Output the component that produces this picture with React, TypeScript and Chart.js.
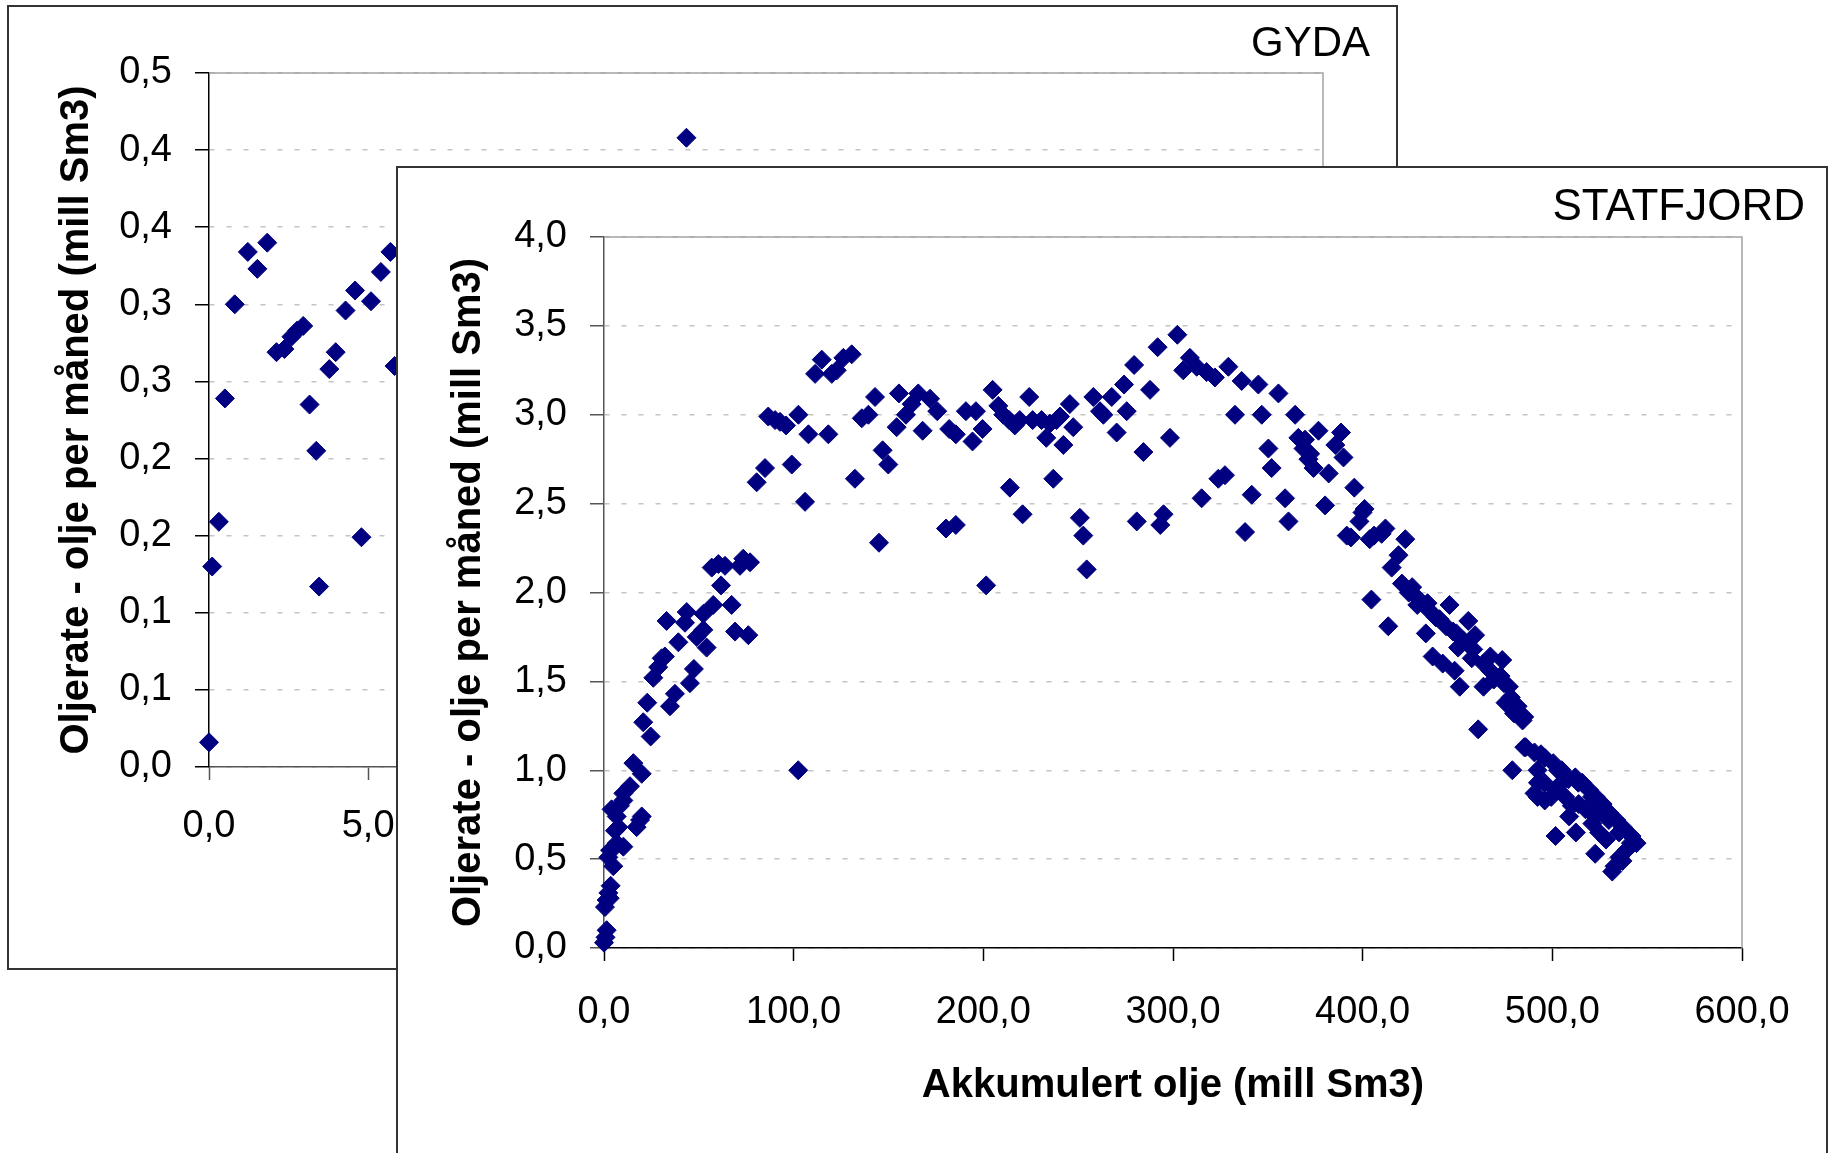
import React, { useEffect, useRef } from 'react';
import { Chart, registerables } from 'chart.js';

Chart.register(...registerables);

type Pt = [number, number];

// ---- GYDA: [akkumulert olje (mill Sm3), oljerate (mill Sm3 per måned)] ----
const gydaPoints: Pt[] = [
  [0.0, 0.016], [0.10, 0.130], [0.31, 0.159], [0.50, 0.239], [0.81, 0.300],
  [1.22, 0.334], [1.52, 0.323], [1.83, 0.340], [2.12, 0.269], [2.37, 0.271],
  [2.59, 0.279], [2.77, 0.283], [2.96, 0.286], [3.16, 0.235], [3.37, 0.205],
  [3.46, 0.117], [3.78, 0.258], [3.98, 0.269], [4.29, 0.296], [4.59, 0.309],
  [4.79, 0.149], [5.09, 0.302], [5.40, 0.321], [5.70, 0.334], [5.83, 0.260],
  [15.0, 0.408],
];

// ---- STATFJORD: oppbygging ----
const statfjordBuildup: Pt[] = [
  [0.0, 0.03], [0.8, 0.06], [1.4, 0.10], [0.5, 0.23], [1.4, 0.27], [2.3, 0.31],
  [3.5, 0.35], [3.0, 0.28], [4.9, 0.46], [2.3, 0.51], [3.2, 0.55], [4.0, 0.55],
  [6.7, 0.59], [10.2, 0.57], [5.8, 0.66], [7.6, 0.68], [4.0, 0.78], [6.7, 0.74],
  [8.4, 0.80], [10.2, 0.83], [10.2, 0.87], [13.7, 0.91], [17.2, 0.68], [19.0, 0.72],
  [19.9, 0.74], [15.5, 1.04], [19.9, 0.98], [24.6, 1.19], [20.7, 1.27], [22.8, 1.38],
  [26.0, 1.52], [28.6, 1.58], [30.4, 1.63], [32.1, 1.64], [34.8, 1.36], [37.4, 1.43],
  [33.0, 1.84], [39.2, 1.72], [42.7, 1.83], [43.6, 1.89], [45.3, 1.49], [47.4, 1.57],
  [48.9, 1.75], [52.4, 1.88], [52.4, 1.79], [54.1, 1.69], [56.8, 2.14], [57.6, 1.93],
  [60.3, 2.16], [61.7, 2.04], [63.8, 2.15], [67.3, 1.93], [69.1, 1.78], [71.7, 2.15],
  [73.4, 2.19], [76.1, 1.76], [77.0, 2.17],
];

// ---- STATFJORD: platå ----
const statfjordPlateau: Pt[] = [
  [80.5, 2.62], [84.9, 2.70], [86.6, 2.99], [90.2, 2.97], [92.8, 2.96], [96.0, 2.94],
  [99.0, 2.72], [102.5, 3.00], [102.4, 1.00], [106.0, 2.51], [107.8, 2.89], [111.3, 3.23],
  [114.8, 3.31], [118.3, 2.89], [120.1, 3.23], [122.7, 3.25], [126.2, 3.32], [130.6, 3.34],
  [132.3, 2.64], [135.9, 2.98], [139.4, 3.00], [142.9, 3.10], [145.0, 2.28], [146.9, 2.80],
  [149.9, 2.72], [154.3, 2.93], [155.5, 3.12], [159.2, 3.00], [162.2, 3.06], [165.7, 3.12],
  [168.0, 2.91], [171.9, 3.09], [175.7, 3.02], [182.0, 2.92], [185.5, 2.89], [180.3, 2.36],
  [185.5, 2.38], [190.8, 3.02], [194.3, 2.85], [196.1, 3.02], [199.6, 2.92], [201.5, 2.04],
  [204.9, 3.14], [207.9, 3.05], [210.5, 3.00], [213.6, 2.97], [216.6, 2.94], [219.2, 2.97],
  [214.0, 2.59], [220.7, 2.44], [224.2, 3.10], [226.0, 2.97], [230.7, 2.97], [233.2, 2.87],
  [235.1, 2.95], [236.9, 2.64], [238.6, 2.97], [240.4, 2.99], [242.2, 2.83], [245.6, 3.06],
  [247.4, 2.93], [250.9, 2.42], [252.7, 2.32], [254.5, 2.13], [258.0, 3.10], [261.5, 3.02],
  [263.3, 3.00], [267.7, 3.10], [270.3, 2.90], [274.2, 3.17], [275.6, 3.02], [279.5, 3.28],
  [280.9, 2.40], [284.4, 2.79], [287.9, 3.14], [291.9, 3.38], [293.3, 2.38], [295.0, 2.44],
  [298.4, 2.87], [302.3, 3.45], [305.4, 3.25], [308.9, 3.32], [312.5, 3.27], [315.1, 2.53],
  [317.7, 3.24], [322.1, 3.21], [323.9, 2.64], [327.4, 2.66], [329.2, 3.27], [332.7, 3.00],
  [336.2, 3.19], [338.0, 2.34], [341.5, 2.55], [345.0, 3.17], [346.8, 3.00], [350.3, 2.81],
  [352.0, 2.70], [355.6, 3.12], [359.1, 2.53], [360.9, 2.40], [364.4, 3.00], [366.1, 2.87],
  [368.8, 2.81], [369.6, 2.86], [371.4, 2.75], [372.3, 2.78], [374.1, 2.70], [376.7, 2.91],
  [380.2, 2.49], [382.1, 2.67], [385.6, 2.83], [388.6, 2.90], [389.9, 2.76], [391.6, 2.32],
  [393.8, 2.31], [395.6, 2.59], [398.3, 2.40], [399.9, 2.45], [401.0, 2.47], [403.7, 2.30],
  [406.0, 2.32], [410.0, 2.33], [412.0, 2.36], [415.3, 2.14], [418.9, 2.21], [422.5, 2.30],
];

// ---- STATFJORD: nedtrapping ----
const statfjordDecline: Pt[] = [
  [404.6, 1.96], [413.5, 1.81], [420.7, 2.05], [424.3, 2.00], [426.1, 2.03], [428.8, 1.93],
  [429.7, 1.96], [434.2, 1.94], [435.0, 1.90], [438.6, 1.86], [433.3, 1.77], [440.5, 1.85],
  [444.0, 1.81], [445.8, 1.93], [447.7, 1.78], [449.4, 1.77], [453.0, 1.73], [455.7, 1.84],
  [459.3, 1.76], [458.3, 1.68], [450.3, 1.69], [436.9, 1.64], [442.2, 1.60], [448.5, 1.56],
  [451.2, 1.47], [457.5, 1.63], [463.7, 1.60], [467.3, 1.56], [467.3, 1.64], [473.6, 1.62],
  [472.7, 1.53], [474.5, 1.49], [463.7, 1.47], [469.1, 1.51], [477.1, 1.47], [475.3, 1.38],
  [478.1, 1.41], [479.8, 1.32], [481.7, 1.36], [484.3, 1.28], [485.2, 1.30], [460.9, 1.23],
  [478.9, 1.00], [486.0, 1.13], [485.2, 1.13], [490.6, 1.10], [494.0, 1.09], [496.0, 1.07],
  [500.5, 1.04], [492.2, 1.00], [503.0, 1.00], [505.0, 1.00], [495.8, 0.93], [492.4, 0.93],
  [503.0, 0.91], [508.5, 0.95], [512.1, 0.96], [513.7, 0.93], [515.7, 0.93], [519.3, 0.89],
  [520.9, 0.85], [522.9, 0.85], [492.2, 0.85], [490.6, 0.87], [496.0, 0.83], [499.4, 0.85],
  [501.4, 0.89], [506.8, 0.85], [510.3, 0.80], [513.9, 0.81], [517.5, 0.78], [524.4, 0.78],
  [526.5, 0.81], [508.9, 0.74], [522.6, 0.74], [521.1, 0.70], [530.1, 0.76], [529.8, 0.72],
  [533.7, 0.72], [537.2, 0.68], [535.2, 0.65], [524.7, 0.65], [501.7, 0.63], [512.4, 0.65],
  [528.3, 0.61], [541.7, 0.63], [541.4, 0.59], [544.4, 0.59], [539.0, 0.55], [522.6, 0.53],
  [535.4, 0.51], [537.0, 0.49], [532.8, 0.46], [531.6, 0.43],
];

const statfjordPoints: Pt[] = [...statfjordBuildup, ...statfjordPlateau, ...statfjordDecline];

// ---- Akser ----
const gydaAkkTicks = [0, 5, 10, 15, 20, 25, 30, 35];
const gydaRateTicks = [0, 0.05, 0.1, 0.15, 0.2, 0.25, 0.3, 0.35, 0.4, 0.45];
const statfjordAkkTicks = [0, 100, 200, 300, 400, 500, 600];
const statfjordRateTicks = [0, 0.5, 1, 1.5, 2, 2.5, 3, 3.5, 4];

const X_TITLE = 'Akkumulert olje (mill Sm3)';
const Y_TITLE = 'Oljerate - olje per måned (mill Sm3)';

const FONT = '"Liberation Sans", Arial, Helvetica, sans-serif';
const NAVY = '#000080';
const GRID = '#c4c4c4';
const FRAME = '#a3a3a3';
const TICK_SIZE = 38;

// Excel-style one-decimal label with comma separator
const fmt1 = (v: number) => (Math.round(v * 10 + 1e-9) / 10).toFixed(1).replace('.', ',');

// Grey frame on the top and right edges of the plot area
const plotFrame = {
  id: 'plotFrame',
  beforeDatasetsDraw(chart: any) {
    const { ctx, chartArea } = chart;
    const { left, top, right, bottom } = chartArea;
    ctx.save();
    ctx.strokeStyle = FRAME;
    ctx.lineWidth = 1.5;
    ctx.setLineDash([]);
    ctx.beginPath();
    ctx.moveTo(left, top);
    ctx.lineTo(right, top);
    ctx.lineTo(right, bottom);
    ctx.stroke();
    ctx.restore();
  },
};

interface Frame {
  pad: { left: number; top: number; right: number; bottom: number };
  yWidth: number;
  xHeight: number;
  yTitlePad: number;
  yTickPad: number;
  xTickPad: number;
  yAxisColor: string;
  xAxisColor: string;
}

function scatterConfig(points: Pt[], xTicks: number[], yTicks: number[], f: Frame): any {
  const ticksFrom = (vals: number[]) => (scale: any) => {
    scale.ticks = vals.map((value) => ({ value }));
  };
  return {
    type: 'scatter',
    data: {
      datasets: [
        {
          data: points.map(([x, y]) => ({ x, y })),
          pointStyle: 'rectRot',
          pointRadius: 9.5,
          borderWidth: 1,
          backgroundColor: NAVY,
          borderColor: NAVY,
          clip: false,
        },
      ],
    },
    options: {
      responsive: false,
      animation: false,
      events: [],
      layout: { padding: f.pad },
      plugins: {
        legend: { display: false },
        tooltip: { enabled: false },
        title: { display: false },
      },
      scales: {
        x: {
          type: 'linear',
          position: 'bottom',
          min: xTicks[0],
          max: xTicks[xTicks.length - 1],
          afterBuildTicks: ticksFrom(xTicks),
          afterFit: (s: any) => {
            s.height = f.xHeight;
          },
          ticks: {
            callback: (v: any) => fmt1(Number(v)),
            font: { family: FONT, size: TICK_SIZE },
            color: '#000',
            padding: f.xTickPad,
            maxRotation: 0,
            autoSkip: false,
          },
          grid: {
            drawOnChartArea: false,
            drawTicks: true,
            tickLength: 13,
            tickColor: f.xAxisColor,
            tickWidth: 1.5,
          },
          border: { display: true, color: f.xAxisColor, width: 1.5 },
          title: {
            display: true,
            text: X_TITLE,
            font: { family: FONT, size: 40, weight: 'bold' },
            color: '#000',
            padding: { top: 0, bottom: 0 },
          },
        },
        y: {
          type: 'linear',
          position: 'left',
          min: yTicks[0],
          max: yTicks[yTicks.length - 1],
          afterBuildTicks: ticksFrom(yTicks),
          afterFit: (s: any) => {
            s.width = f.yWidth;
          },
          ticks: {
            callback: (v: any) => fmt1(Number(v)),
            font: { family: FONT, size: TICK_SIZE },
            color: '#000',
            padding: f.yTickPad,
            autoSkip: false,
          },
          grid: {
            color: GRID,
            lineWidth: 1.5,
            drawTicks: true,
            tickLength: 14,
            tickColor: f.yAxisColor,
            tickWidth: 1.5,
            tickBorderDash: [],
          },
          border: { display: true, color: f.yAxisColor, width: 1.5, dash: [5, 12] },
          title: {
            display: true,
            text: Y_TITLE,
            font: { family: FONT, size: 40, weight: 'bold' },
            color: '#000',
            padding: { top: f.yTitlePad, bottom: 0 },
          },
        },
      },
    },
    plugins: [plotFrame],
  };
}

const panelStyle = (left: number, top: number, width: number, height: number): React.CSSProperties => ({
  position: 'absolute',
  left,
  top,
  width,
  height,
  boxSizing: 'border-box',
  border: '2px solid #333',
  background: '#fff',
  overflow: 'hidden',
});

export default function App() {
  const gydaRef = useRef<HTMLCanvasElement>(null);
  const statRef = useRef<HTMLCanvasElement>(null);

  useEffect(() => {
    const charts: Chart[] = [];
    if (gydaRef.current) {
      charts.push(
        new Chart(
          gydaRef.current,
          scatterConfig(gydaPoints, gydaAkkTicks, gydaRateTicks, {
            pad: { left: 0, top: 66, right: 73, bottom: 51 },
            yWidth: 200,
            xHeight: 150,
            yTitlePad: 43.5,
            yTickPad: 23,
            xTickPad: 24,
            yAxisColor: '#000',
            xAxisColor: '#555',
          })
        )
      );
    }
    if (statRef.current) {
      charts.push(
        new Chart(
          statRef.current,
          scatterConfig(statfjordPoints, statfjordAkkTicks, statfjordRateTicks, {
            pad: { left: 0, top: 69, right: 84, bottom: 48.5 },
            yWidth: 206,
            xHeight: 161.5,
            yTitlePad: 46.5,
            yTickPad: 23,
            xTickPad: 29,
            yAxisColor: '#555',
            xAxisColor: '#000',
          })
        )
      );
    }
    return () => charts.forEach((c) => c.destroy());
  }, []);

  const titleStyle = (right: number, top: number, size: number): React.CSSProperties => ({
    position: 'absolute',
    right,
    top,
    fontFamily: FONT,
    fontSize: size,
    lineHeight: `${size}px`,
    color: '#000',
    whiteSpace: 'nowrap',
  });

  return (
    <div
      style={{
        position: 'fixed',
        left: 0,
        top: 0,
        width: 1833,
        height: 1153,
        overflow: 'hidden',
        background: '#fff',
      }}
    >
      <div style={panelStyle(7, 5, 1391, 965)}>
        <canvas ref={gydaRef} width={1387} height={961} style={{ display: 'block' }} />
        <div style={titleStyle(26, 14, 42)}>GYDA</div>
      </div>
      <div style={panelStyle(396, 166, 1432, 1100)}>
        <canvas ref={statRef} width={1428} height={990} style={{ display: 'block' }} />
        <div style={titleStyle(21, 15, 44)}>STATFJORD</div>
      </div>
    </div>
  );
}
